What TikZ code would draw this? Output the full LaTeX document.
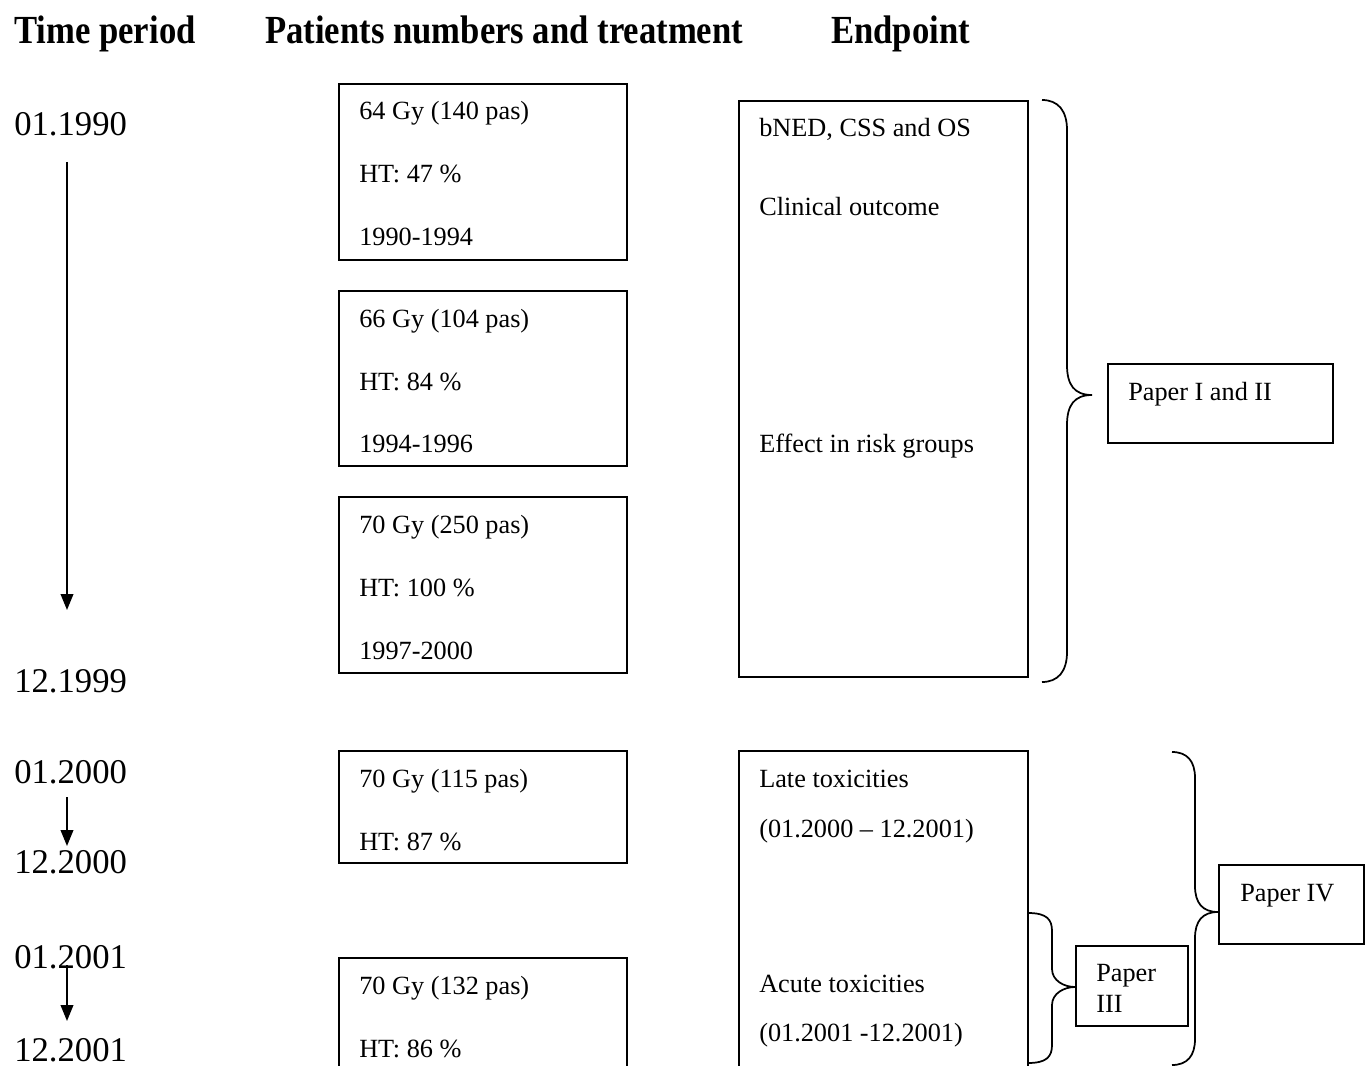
\documentclass[tikz,border=0pt]{standalone}
\usepackage{fontspec}
\usepackage{graphicx}
\setmainfont{Liberation Serif}
\usetikzlibrary{arrows.meta}
\newcommand\bracepath[7]{% x0, xv, xt, ytop, ytip, ybot, r
  (#1,#4) .. controls (#2-0.3*#7,#4) and (#2,#4+0.35*#7) .. (#2,#4+#7)
  -- (#2,#5-#7) .. controls (#2,#5-0.35*#7) and (#3-0.6*#7,#5) .. (#3,#5)
  .. controls (#3-0.6*#7,#5) and (#2,#5+0.35*#7) .. (#2,#5+#7)
  -- (#2,#6-#7) .. controls (#2,#6-0.35*#7) and (#2-0.3*#7,#6) .. (#1,#6)}
\begin{document}
\begin{tikzpicture}[x=0.75pt,y=-0.75pt,
  box/.style={draw, line width=1.3pt, inner sep=0, anchor=north west},
  txt/.style={anchor=base west, inner sep=0, font=\fontsize{19.7}{22}\selectfont},
  datelbl/.style={anchor=base west, inner sep=0, font=\fontsize{26}{30}\selectfont},
  head/.style={anchor=base west, inner sep=0, font=\bfseries\fontsize{26}{30}\selectfont},
  arr/.style={line width=1.3pt, -{Triangle[width=9.5pt,length=12pt]}},
  bracestyle/.style={line width=1.3pt}]
\path[use as bounding box, clip] (0,0) rectangle (1366,1066);
\fill[white] (0,0) rectangle (1366,1066);

% headers
\node[head] (h1) at (14,44) {\scalebox{1}[1.15]{Time period}};
\node[head] (h2) at (265,44) {\scalebox{1}[1.15]{Patients numbers and treatment}};
\node[head] (h3) at (831,44) {\scalebox{1}[1.15]{Endpoint}};

% time labels
\node[datelbl] (d1) at (14,136) {01.1990};
\node[datelbl] (d2) at (14,692) {12.1999};
\node[datelbl] (d3) at (14,783) {01.2000};
\node[datelbl] (d4) at (14,873) {12.2000};
\node[datelbl] (d5) at (14,968) {01.2001};
\node[datelbl] (d6) at (14,1061) {12.2001};

\coordinate (a1s) at (67,162); \coordinate (a1e) at (67,610);
\coordinate (a2s) at (67,797); \coordinate (a2e) at (67,846);
\coordinate (a3s) at (67,965); \coordinate (a3e) at (67,1021);
\draw[arr] (a1s) -- (a1e);
\draw[arr] (a2s) -- (a2e);
\draw[arr] (a3s) -- (a3e);

% treatment boxes
\node[box, minimum width=288*0.75pt, minimum height=176*0.75pt] (b1) at (338,83) {};
\node[box, minimum width=288*0.75pt, minimum height=175*0.75pt] (b2) at (338,290) {};
\node[box, minimum width=288*0.75pt, minimum height=176*0.75pt] (b3) at (338,496) {};
\node[box, minimum width=288*0.75pt, minimum height=112*0.75pt] (b4) at (338,750) {};
\node[box, minimum width=288*0.75pt, minimum height=200*0.75pt] (b5) at (338,957) {};

\node[txt] (t11) at (359,120) {64 Gy (140 pas)};
\node[txt] (t12) at (359,183) {HT: 47 \%};
\node[txt] (t13) at (359,246) {1990-1994};
\node[txt] (t21) at (359,327) {66 Gy (104 pas)};
\node[txt] (t22) at (359,390) {HT: 84 \%};
\node[txt] (t23) at (359,452) {1994-1996};
\node[txt] (t31) at (359,533) {70 Gy (250 pas)};
\node[txt] (t32) at (359,596) {HT: 100 \%};
\node[txt] (t33) at (359,659) {1997-2000};
\node[txt] (t41) at (359,787) {70 Gy (115 pas)};
\node[txt] (t42) at (359,850) {HT: 87 \%};
\node[txt] (t51) at (359,994) {70 Gy (132 pas)};
\node[txt] (t52) at (359,1057) {HT: 86 \%};

% endpoint boxes
\node[box, minimum width=289*0.75pt, minimum height=576*0.75pt] (e1) at (738,100) {};
\node[box, minimum width=289*0.75pt, minimum height=400*0.75pt] (e2) at (738,750) {};
\node[txt] (e11) at (759,137) {bNED, CSS and OS};
\node[txt] (e12) at (759,216) {Clinical outcome};
\node[txt] (e13) at (759,452) {Effect in risk groups};
\node[txt] (e21) at (759,787) {Late toxicities};
\node[txt] (e22) at (759,837) {(01.2000 -- 12.2001)};
\node[txt] (e23) at (759,992) {Acute toxicities};
\node[txt] (e24) at (759,1041) {(01.2001 -12.2001)};

% paper boxes
\node[box, minimum width=225*0.75pt, minimum height=79*0.75pt] (p12) at (1107,363) {};
\node[txt] (p12t) at (1128,400) {Paper I and II};
\node[box, minimum width=145*0.75pt, minimum height=79*0.75pt] (p4) at (1218,864) {};
\node[txt] (p4t) at (1240,901) {Paper IV};
\node[box, minimum width=112*0.75pt, minimum height=80*0.75pt] (p3) at (1075,945) {};
\node[txt] (p3t) at (1096,981) {Paper};
\node[txt] (p3u) at (1096,1012) {III};

% braces
\draw[bracestyle] \bracepath{1042}{1067}{1092}{100}{395}{682}{30};
\draw[bracestyle] \bracepath{1172}{1195}{1218}{752}{912}{1065}{26};
\draw[bracestyle] \bracepath{1028}{1052}{1075}{913}{987}{1063}{18};
\end{tikzpicture}
\end{document}
